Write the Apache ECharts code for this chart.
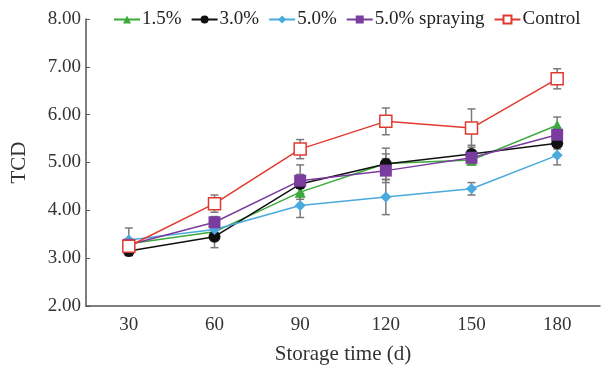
<!DOCTYPE html>
<html><head><meta charset="utf-8">
<script src="https://cdn.jsdelivr.net/npm/echarts@6/dist/echarts.min.js"></script>
<style>html,body{margin:0;padding:0;background:#fff}#c{width:602px;height:370px}</style>
</head><body><div id="c"></div>
<script>
const categories = ['30','60','90','120','150','180'];
const seriesNames = ['1.5%','3.0%','5.0%','5.0% spraying','Control'];
const v15 = [3.30, 3.55, 4.38, 4.98, 5.05, 5.78];
const v30 = [3.15, 3.45, 4.55, 4.97, 5.18, 5.40];
const v50 = [3.38, 3.60, 4.10, 4.28, 4.45, 5.15];
const v50s = [3.28, 3.75, 4.62, 4.83, 5.10, 5.58];
const vCtrl = [3.25, 4.14, 5.28, 5.86, 5.72, 6.75];
const e15 = [0.08, 0.10, 0.15, 0.20, 0.10, 0.17];
const e30 = [0.10, 0.23, 0.20, 0.33, 0.18, 0.12];
const e50 = [0.25, 0.10, 0.25, 0.37, 0.13, 0.20];
const e50s = [0.08, 0.12, 0.33, 0.25, 0.15, 0.15];
const eCtrl = [0.10, 0.18, 0.20, 0.28, 0.40, 0.21];
const yTicks = [2,3,4,5,6,7,8];

const F = '"Liberation Serif","Times New Roman",serif';
const colors = ['#3aaa3a','#111111','#4aa9dd','#7a3c9e','#e03a30'];
const symbols = ['triangle','circle','diamond','rect','rect'];
const sizes = [11,12,11,12,12];
const vals = [v15,v30,v50,v50s,vCtrl];
const errs = [e15,e30,e50,e50s,eCtrl];

const series = [];
vals.forEach((v,i)=>{
  series.push({
    type:'custom', name: seriesNames[i]+'_err', silent:true, z:1,
    renderItem:(params, api)=>{
      const x = api.value(0), y = api.value(1), e = api.value(2);
      const top = api.coord([x, y+e]);
      const bot = api.coord([x, y-e]);
      const w = 4;
      const st = {stroke:'#7a7a7a', lineWidth:1.5};
      return {type:'group', children:[
        {type:'line', shape:{x1:top[0],y1:top[1],x2:bot[0],y2:bot[1]}, style:st},
        {type:'line', shape:{x1:top[0]-w,y1:top[1],x2:top[0]+w,y2:top[1]}, style:st},
        {type:'line', shape:{x1:bot[0]-w,y1:bot[1],x2:bot[0]+w,y2:bot[1]}, style:st}
      ]};
    },
    data: v.map((y,k)=>[k, y, errs[i][k]])
  });
});
vals.forEach((v,i)=>{
  const isCtrl = i===4;
  series.push({
    type:'line', name: seriesNames[i], data: v, z: 3+i,
    symbol: symbols[i], symbolSize: sizes[i],
    lineStyle:{color:colors[i], width:1.5},
    itemStyle: isCtrl ? {color:'#ffffff', borderColor:colors[i], borderWidth:1.5} : {color:colors[i], borderWidth:0},
    color: colors[i]
  });
});

const chart = echarts.init(document.getElementById('c'));
chart.setOption({
  animation:false,
  backgroundColor:'#fff',
  grid:{left:86, right:2, top:19, bottom:61},
  legend:{
    data: seriesNames, left:108, top:5, itemWidth:26, itemHeight:10, itemGap:9,
    textStyle:{fontFamily:F, fontSize:19, color:'#222', padding:[0,0,0,-3]}
  },
  xAxis:{
    type:'category', data:categories, boundaryGap:true,
    name:'Storage time (d)', nameLocation:'middle', nameGap:38,
    nameTextStyle:{fontFamily:F, fontSize:21, color:'#333'},
    axisLine:{lineStyle:{color:'#555', width:1.5}},
    axisTick:{inside:true, length:4, lineStyle:{color:'#555'}},
    axisLabel:{fontFamily:F, fontSize:19, color:'#333', margin:10}
  },
  yAxis:{
    type:'value', min:yTicks[0], max:yTicks[yTicks.length-1], interval:1,
    name:'TCD', nameLocation:'middle', nameGap:56,
    nameTextStyle:{fontFamily:F, fontSize:21, color:'#333'},
    axisLine:{show:true, lineStyle:{color:'#555', width:1.5}},
    axisTick:{show:true, inside:true, length:4, lineStyle:{color:'#555'}},
    splitLine:{show:false},
    axisLabel:{fontFamily:F, fontSize:19, color:'#333', margin:5, formatter:v=>v.toFixed(2)}
  },
  series: series
});
</script></body></html>
